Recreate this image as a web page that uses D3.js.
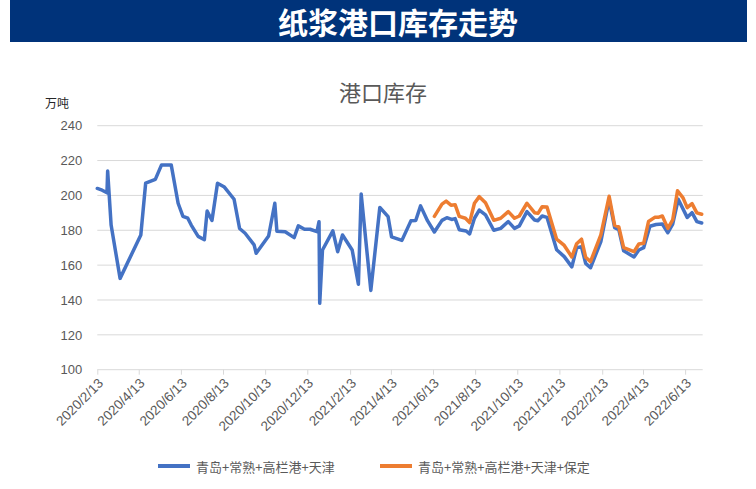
<!DOCTYPE html>
<html><head><meta charset="utf-8">
<script src="https://cdn.jsdelivr.net/npm/d3@7"></script>
<style>body{margin:0;background:#fff;} svg{display:block;}</style>
</head><body>
<svg id="c" width="756" height="489"></svg>
<script>
const tickLabels = ["2020/2/13","2020/4/13","2020/6/13","2020/8/13","2020/10/13","2020/12/13","2021/2/13","2021/4/13","2021/6/13","2021/8/13","2021/10/13","2021/12/13","2022/2/13","2022/4/13","2022/6/13"];
const yTicks = [100,120,140,160,180,200,220,240];
const seriesNames = ["青岛+常熟+高栏港+天津","青岛+常熟+高栏港+天津+保定"];
const seriesColors = ["#4472C4","#ED7D31"];

const blueDates = ["2020-02-13","2020-02-20","2020-02-27","2020-02-28","2020-03-04","2020-03-17","2020-04-16","2020-04-23","2020-05-07","2020-05-16","2020-05-30","2020-06-09","2020-06-16","2020-06-23","2020-06-28","2020-07-08","2020-07-17","2020-07-21","2020-07-28","2020-08-05","2020-08-15","2020-08-29","2020-09-06","2020-09-14","2020-09-27","2020-09-30","2020-10-18","2020-10-27","2020-10-30","2020-11-11","2020-11-24","2020-11-30","2020-12-09","2020-12-17","2020-12-27","2020-12-30","2020-12-31","2021-01-04","2021-01-19","2021-01-26","2021-02-02","2021-02-16","2021-02-25","2021-03-01","2021-03-15","2021-03-28","2021-04-09","2021-04-14","2021-04-29","2021-05-12","2021-05-19","2021-05-26","2021-06-05","2021-06-15","2021-06-26","2021-07-03","2021-07-10","2021-07-15","2021-07-21","2021-07-31","2021-08-05","2021-08-12","2021-08-19","2021-08-28","2021-09-09","2021-09-19","2021-09-30","2021-10-09","2021-10-16","2021-10-27","2021-11-07","2021-11-12","2021-11-18","2021-11-25","2021-12-09","2021-12-20","2021-12-31","2022-01-07","2022-01-14","2022-01-20","2022-01-27","2022-02-11","2022-02-23","2022-03-03","2022-03-09","2022-03-16","2022-03-31","2022-04-07","2022-04-14","2022-04-23","2022-05-02","2022-05-11","2022-05-19","2022-05-26","2022-06-03","2022-06-16","2022-06-23","2022-06-30","2022-07-07"];
const blueValues = [204,203,201.5,214,183,152.4,177.3,207,209.2,217.5,217.5,195.5,188,186.9,183,176.5,174.6,191,185.6,207,204.8,197.8,181,178.3,171.6,166.8,176.7,195.5,179.5,179.2,175.8,182.5,180.6,180.6,179.2,184.9,138.1,168.7,179.7,167.7,177.3,168.7,149,200.8,145.5,193.1,187.8,176.2,174.2,185.4,185.6,194,185.5,179,185.7,187.2,186.2,186.7,180.3,179.6,177.9,186.9,191.6,188.8,180,181.1,185,181.1,182.5,190.7,185.9,185.5,188.2,187.4,168.8,164.9,159,170,170.5,161,158.5,173.5,197.6,181.5,180.4,168.2,164.7,168.7,170,182.3,183.3,183.6,178.6,183.5,197.8,187.4,190.1,185,184.2];

const orangeDates = ["2021-06-15","2021-06-26","2021-07-02","2021-07-09","2021-07-15","2021-07-21","2021-07-30","2021-08-05","2021-08-12","2021-08-19","2021-08-28","2021-09-09","2021-09-19","2021-09-30","2021-10-09","2021-10-16","2021-10-27","2021-11-07","2021-11-12","2021-11-18","2021-11-25","2021-12-09","2021-12-20","2021-12-31","2022-01-07","2022-01-14","2022-01-20","2022-01-27","2022-02-11","2022-02-23","2022-03-03","2022-03-09","2022-03-16","2022-03-31","2022-04-07","2022-04-14","2022-04-21","2022-04-30","2022-05-05","2022-05-11","2022-05-19","2022-05-26","2022-06-02","2022-06-10","2022-06-16","2022-06-23","2022-06-30","2022-07-07"];
const orangeValues = [188,195,196.7,194.4,194.7,188,186.9,184.4,195.5,199.3,195.8,185.7,186.9,190.7,186.9,188.2,195.5,190.1,189.7,193.5,193.3,174.9,171.3,164.7,172.3,174.9,164.5,162,177.3,199.5,182.8,181.9,170,167.7,172.1,172.5,185,187.4,187.4,188.2,181.1,185.9,202.7,198.6,193,195.3,190,189.2];

const parseD = d3.timeParse("%Y-%m-%d");
const parseT = d3.timeParse("%Y/%m/%d");
const svg = d3.select("#c");
const plot = {left: 97.3, right: 701.7, top: 125.7, bottom: 369.7};

// banner
svg.append("rect").attr("x",10).attr("y",0).attr("width",737).attr("height",42).attr("fill","#00337A");
svg.append("text").attr("x",398).attr("y",21).attr("text-anchor","middle").attr("dominant-baseline","central")
  .attr("font-family","'Noto Sans CJK SC'").attr("font-weight","bold").attr("font-size",30).attr("fill","#fff")
  .text("纸浆港口库存走势");

// chart title
svg.append("text").attr("x",383).attr("y",91).attr("text-anchor","middle").attr("dominant-baseline","central")
  .attr("font-family","'Noto Sans CJK SC'").attr("font-size",22).attr("fill","#595959").text("港口库存");
// unit
svg.append("text").attr("x",45).attr("y",102).attr("dominant-baseline","central")
  .attr("font-family","'Noto Sans CJK SC'").attr("font-size",12).attr("fill","#262626").text("万吨");

const x = d3.scaleTime().domain([parseD(blueDates[0]), parseD(blueDates[blueDates.length-1])]).range([plot.left, plot.right]);
const y = d3.scaleLinear().domain([100,240]).range([plot.bottom, plot.top]);

// grid
svg.append("g").selectAll("line").data(yTicks.filter(v=>v>100)).join("line")
  .attr("x1",plot.left).attr("x2",plot.right+1).attr("y1",d=>y(d)).attr("y2",d=>y(d))
  .attr("stroke","#d9d9d9").attr("stroke-width",1);

// y axis labels
const yAxis = svg.append("g").attr("transform",`translate(${plot.left},0)`)
  .call(d3.axisLeft(y).tickValues(yTicks).tickSize(0).tickPadding(15));
yAxis.select(".domain").remove();
yAxis.selectAll("text").attr("font-family","'Liberation Sans', Arial, sans-serif").attr("font-size",13).attr("fill","#595959");

// x axis
const tickDates = tickLabels.map(parseT);
const xAxis = svg.append("g").attr("transform",`translate(0,${plot.bottom})`)
  .call(d3.axisBottom(x).tickValues(tickDates).tickSize(5).tickFormat((d,i)=>tickLabels[i]));
xAxis.select(".domain").attr("d",`M${plot.left},0H${plot.right+1}`).attr("stroke","#d9d9d9");
xAxis.selectAll(".tick line").attr("stroke","#d9d9d9");
xAxis.selectAll("text").attr("font-family","'Liberation Sans', Arial, sans-serif").attr("font-size",13.5).attr("fill","#595959")
  .attr("text-anchor","end").attr("dy","0.35em").attr("y",0)
  .attr("transform","translate(3,11) rotate(-45)");

// lines
const line = d3.line().x(d=>x(d[0])).y(d=>y(d[1]));
const blueData = blueDates.map((d,i)=>[parseD(d), blueValues[i]]);
const orangeData = orangeDates.map((d,i)=>[parseD(d), orangeValues[i]]);
svg.append("path").datum(blueData).attr("d",line).attr("fill","none").attr("stroke",seriesColors[0])
  .attr("stroke-width",3.5).attr("stroke-linejoin","round").attr("stroke-linecap","round");
svg.append("path").datum(orangeData).attr("d",line).attr("fill","none").attr("stroke",seriesColors[1])
  .attr("stroke-width",3.5).attr("stroke-linejoin","round").attr("stroke-linecap","round");

// legend
const legX = [158, 380];
seriesNames.forEach((n,i)=>{
  svg.append("line").attr("x1",legX[i]).attr("x2",legX[i]+32).attr("y1",466).attr("y2",466)
    .attr("stroke",seriesColors[i]).attr("stroke-width",4);
  svg.append("text").attr("x",legX[i]+38).attr("y",466).attr("dominant-baseline","central")
    .attr("font-family","'Noto Sans CJK SC'").attr("font-size",13).attr("fill","#595959").text(n);
});
</script>
</body></html>
